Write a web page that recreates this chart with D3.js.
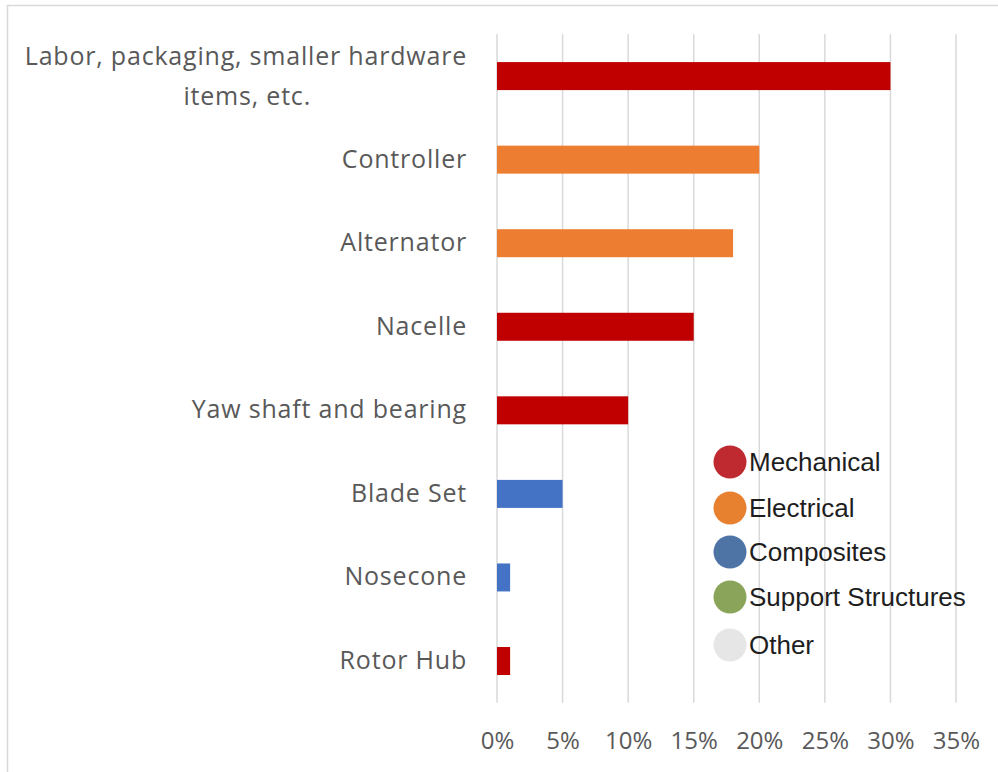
<!DOCTYPE html>
<html>
<head>
<meta charset="utf-8">
<script src="https://cdn.jsdelivr.net/npm/d3@7"></script>
<style>
  html, body { margin: 0; padding: 0; background: #fff; }
  svg { display: block; }
</style>
</head>
<body>
<svg id="chart" width="998" height="772"></svg>
<script>
// ---- data ----
const categories = [
  "Labor, packaging, smaller hardware items, etc.",
  "Controller",
  "Alternator",
  "Nacelle",
  "Yaw shaft and bearing",
  "Blade Set",
  "Nosecone",
  "Rotor Hub"
];
const values = [0.30, 0.20, 0.18, 0.15, 0.10, 0.05, 0.01, 0.01];
const groups = ["Mechanical", "Electrical", "Electrical", "Mechanical", "Mechanical", "Composites", "Composites", "Mechanical"];
const xTicks = [0, 0.05, 0.10, 0.15, 0.20, 0.25, 0.30, 0.35];
const legendItems = ["Mechanical", "Electrical", "Composites", "Support Structures", "Other"];

// ---- styles ----
const barColor = { Mechanical: "#C00000", Electrical: "#ED7D31", Composites: "#4472C4" };
const legendColor = {
  "Mechanical": "#BE2A2F",
  "Electrical": "#E8812F",
  "Composites": "#4E74A6",
  "Support Structures": "#8AA55A",
  "Other": "#E6E6E6"
};

const svg = d3.select("#chart");

// frame
svg.append("rect")
  .attr("x", 7.5).attr("y", 5.5).attr("width", 1100).attr("height", 1000)
  .attr("fill", "none").attr("stroke", "#d9d9d9").attr("stroke-width", 1.5);

const pLeft = 497, pRight = 956, pTop = 34.3, pBottom = 702.8;

const x = d3.scaleLinear().domain([0, 0.35]).range([pLeft, pRight]);
const y = d3.scaleBand().domain(categories).range([pTop, pBottom]).paddingInner(0.665).paddingOuter(0.3325);

// gridlines
svg.append("g").selectAll("line").data(xTicks).join("line")
  .attr("x1", d => x(d)).attr("x2", d => x(d))
  .attr("y1", pTop).attr("y2", pBottom)
  .attr("stroke", "#d9d9d9").attr("stroke-width", 1.5);

// x axis labels
const xAxis = d3.axisBottom(x).tickValues(xTicks).tickFormat(d3.format(".0%")).tickSize(0).tickPadding(29);
const gx = svg.append("g").attr("transform", `translate(0,${pBottom})`).call(xAxis);
gx.select(".domain").remove();
gx.selectAll("text")
  .attr("fill", "#595959")
  .style("font-family", "'Open Sans', sans-serif")
  .style("font-size", "24px");

// bars
svg.append("g").selectAll("rect").data(categories).join("rect")
  .attr("x", x(0))
  .attr("y", d => y(d))
  .attr("width", (d, i) => x(values[i]) - x(0))
  .attr("height", y.bandwidth())
  .attr("fill", (d, i) => barColor[groups[i]]);

// category labels
const labelX = 467;
const catG = svg.append("g");
categories.forEach((c, i) => {
  const cy = y(c) + y.bandwidth() / 2;
  const t = catG.append("text")
    .attr("x", labelX)
    .attr("text-anchor", "end")
    .attr("fill", "#595959")
    .style("font-family", "'Open Sans', sans-serif")
    .style("font-size", "25px")
    .style("letter-spacing", "0.8px");
  if (i === 0) {
    const lines = ["Labor, packaging, smaller hardware", "items, etc."];
    t.append("tspan").attr("x", labelX).attr("y", cy - 11).text(lines[0]);
    t.append("tspan").attr("x", 311).attr("y", cy + 29).text(lines[1]);
  } else {
    t.attr("y", cy + 8).text(c);
  }
});

// legend
const legendY = [462, 508, 552, 597, 645];
const lg = svg.append("g");
legendItems.forEach((name, i) => {
  lg.append("circle")
    .attr("cx", 730).attr("cy", legendY[i]).attr("r", 16.5)
    .attr("fill", legendColor[name]);
  lg.append("text")
    .attr("x", 749).attr("y", legendY[i] + 9)
    .attr("fill", "#1e1e1e")
    .style("font-family", "'Liberation Sans', Arial, sans-serif")
    .style("font-size", "26px")
    .text(name);
});
</script>
</body>
</html>
